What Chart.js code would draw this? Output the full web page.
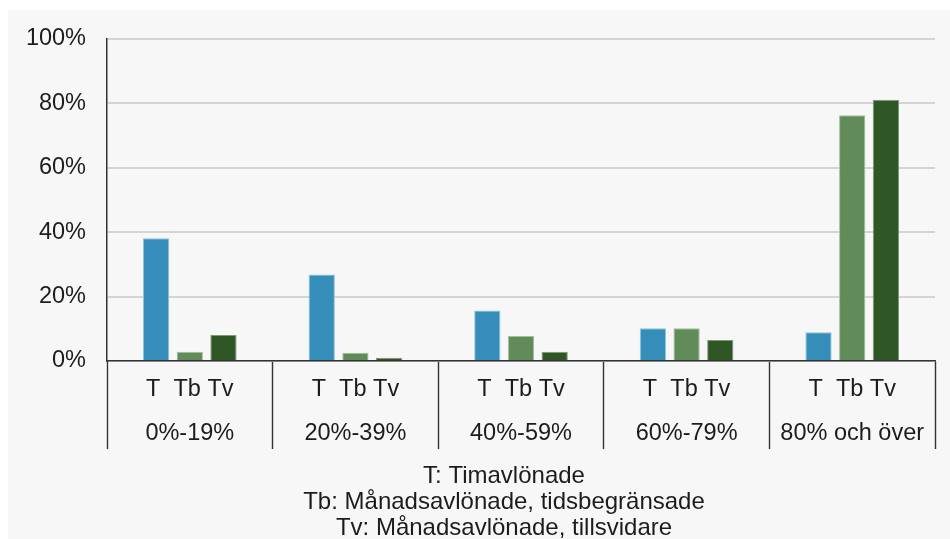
<!DOCTYPE html>
<html>
<head>
<meta charset="utf-8">
<script src="https://cdn.jsdelivr.net/npm/chart.js@4/dist/chart.umd.min.js"></script>
<style>
  html, body { margin: 0; padding: 0; background: #ffffff; overflow: hidden; width: 950px; height: 539px; }
  #wrap { position: absolute; left: 8px; top: 10px; width: 942px; height: 560px; background: #f7f7f7; }
  canvas { display: block; }
</style>
</head>
<body>
<div id="wrap"><canvas id="chart" width="942" height="560"></canvas></div>
<script>
// Andel anställda per intervall, fördelat på anställningsform
const groups = ["0%-19%", "20%-39%", "40%-59%", "60%-79%", "80% och över"];
const seriesCodes = "T  Tb Tv";
const timavlonade = [38.1, 26.9, 15.7, 10.2, 8.9];
const manadTidsbegransade = [2.9, 2.6, 7.8, 10.2, 76.3];
const manadTillsvidare = [8.1, 1.0, 2.9, 6.5, 81.1];
const yMax = 100;
const yStep = 20;
const legendLines = [
  "T: Timavlönade",
  "Tb: Månadsavlönade, tidsbegränsade",
  "Tv: Månadsavlönade, tillsvidare"
];

const FONT = "'Liberation Sans', Arial, sans-serif";
const TEXT = "#1c1c1c";

// Förklaringstext under diagrammet
const explanationText = {
  id: "explanationText",
  afterDraw(chart) {
    const ctx = chart.ctx;
    const x = chart.scales.x;
    ctx.save();
    ctx.font = "24px " + FONT;
    ctx.fillStyle = TEXT;
    ctx.textAlign = "center";
    ctx.textBaseline = "alphabetic";
    const cx = 496;
    legendLines.forEach((line, i) => {
      ctx.fillText(line, cx, x.bottom + 27 + i * 26);
    });
    ctx.restore();
  }
};

new Chart(document.getElementById("chart"), {
  type: "bar",
  data: {
    labels: groups.map(g => [seriesCodes, g]),
    datasets: [
      { label: "T", data: timavlonade, backgroundColor: "#358db9", borderColor: "#8fc3dc" },
      { label: "Tb", data: manadTidsbegransade, backgroundColor: "#618b59", borderColor: "#a3c09d" },
      { label: "Tv", data: manadTillsvidare, backgroundColor: "#2e5725", borderColor: "#7d9a76" }
    ]
  },
  options: {
    responsive: false,
    animation: false,
    events: [],
    layout: { padding: { top: 29, right: 15, left: 0, bottom: 114 } },
    datasets: {
      bar: { categoryPercentage: 0.61, barPercentage: 0.78, borderWidth: 1 }
    },
    plugins: {
      legend: { display: false },
      tooltip: { enabled: false },
      title: { display: false }
    },
    scales: {
      x: {
        grid: {
          offset: true,
          drawOnChartArea: false,
          drawTicks: true,
          tickLength: 88,
          tickColor: "#333333",
          tickWidth: 1.4
        },
        border: { display: true, color: "#333333", width: 1.5 },
        ticks: {
          autoSkip: false,
          maxRotation: 0,
          padding: -81,
          color: TEXT,
          font: { family: FONT, size: 23.5, lineHeight: 1.855 }
        },
        afterFit(scale) { scale.height = 95; }
      },
      y: {
        min: 0,
        max: yMax,
        grid: { color: "#d4d4d4", lineWidth: 2, drawTicks: false },
        border: { display: true, color: "#333333", width: 1.5 },
        ticks: {
          stepSize: yStep,
          padding: 21,
          color: TEXT,
          font: { family: FONT, size: 23.5 },
          callback: v => v + "%"
        },
        afterFit(scale) {
          scale.width = 99;
          // the outer layout padding already leaves room for the top label
          scale.paddingTop = 0;
        }
      }
    }
  },
  plugins: [explanationText]
});
</script>
</body>
</html>
